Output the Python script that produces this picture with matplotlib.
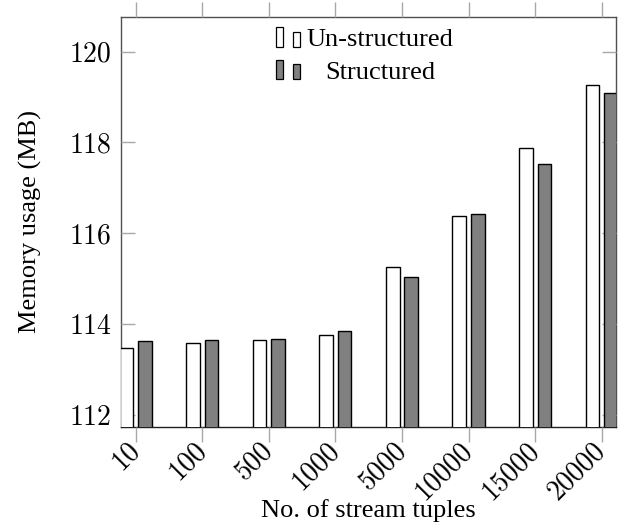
import matplotlib
matplotlib.use("Agg")
import matplotlib.pyplot as plt
from matplotlib.patches import Rectangle
import numpy as np

categories = ["10", "100", "500", "1000", "5000", "10000", "15000", "20000"]
unstructured = [113.47, 113.59, 113.64, 113.75, 115.26, 116.38, 117.88, 119.27]
structured = [113.62, 113.64, 113.68, 113.85, 115.04, 116.43, 117.53, 119.10]
series_names = ["Un-structured", "Structured"]
yticks = [112, 114, 116, 118, 120]

serif = "Liberation Serif"
tickfont = "cmr10"
fs = 19
tfs = 20

fig = plt.figure(figsize=(6.21, 5.25), dpi=100)
ax = fig.add_axes([120.7 / 621, 1 - 426.7 / 525, 495 / 621, 410 / 525])

x = np.arange(len(categories))
w = 0.205
off = 0.139
ax.bar(x - off, unstructured, width=w, bottom=0, color="white", edgecolor="black",
       linewidth=1.0, zorder=2)
ax.bar(x + off, structured, width=w, bottom=0, color="#808080", edgecolor="black",
       linewidth=1.0, zorder=2)

ax.set_xlim(-0.225, 7.21)
ax.set_ylim(111.737, 120.771)

ax.set_xticks(x)
ax.set_xticklabels(categories, rotation=45, ha="right", va="center",
                   rotation_mode="anchor", fontfamily=tickfont, fontsize=tfs)
ax.set_yticks(yticks)
ax.set_yticklabels([str(t) for t in yticks], fontfamily=tickfont, fontsize=tfs)

ax.tick_params(axis="x", which="both", direction="out", length=11, width=1.0,
               color="#a8a8a8", top=True, bottom=True, pad=3)
ax.tick_params(axis="y", which="both", direction="in", length=10, width=1.0,
               color="#a8a8a8", left=True, right=True, pad=7)

for name, sp in ax.spines.items():
    sp.set_zorder(1)
    sp.set_linewidth(1.0)
    sp.set_color("#505050")
ax.spines["bottom"].set_color("#202020")


def fx(px):
    return (px - 120.7) / 495.0


def fy(py):
    return (426.7 - py) / 410.0


ax.set_xlabel("No. of stream tuples", fontfamily=serif, fontsize=fs)
ax.xaxis.set_label_coords(0.5, fy(516.5))
ax.xaxis.label.set_va("baseline")
ax.set_ylabel("Memory usage (MB)", fontfamily=serif, fontsize=fs)
ax.yaxis.set_label_coords(fx(30), 0.5)
ax.yaxis.label.set_va("center")

# legend (pgfplots ybar style: two small bars per entry, centered text)
rows = [(46.5, "white"), (79.0, "#808080")]
for (base, fc), name in zip(rows, series_names):
    r1 = Rectangle((fx(276), fy(base)), 7.3 / 495, 19 / 410, transform=ax.transAxes,
                   facecolor=fc, edgecolor="black", linewidth=0.9, clip_on=False, zorder=5)
    r2 = Rectangle((fx(292.5), fy(base)), 7.3 / 495, 14.5 / 410, transform=ax.transAxes,
                   facecolor=fc, edgecolor="black", linewidth=0.9, clip_on=False, zorder=5)
    ax.add_patch(r1)
    ax.add_patch(r2)
    ax.text(fx(380.2), fy(base), name, transform=ax.transAxes, ha="center",
            va="baseline", fontfamily=serif, fontsize=fs, zorder=5)

fig.savefig("out.png", dpi=100)
